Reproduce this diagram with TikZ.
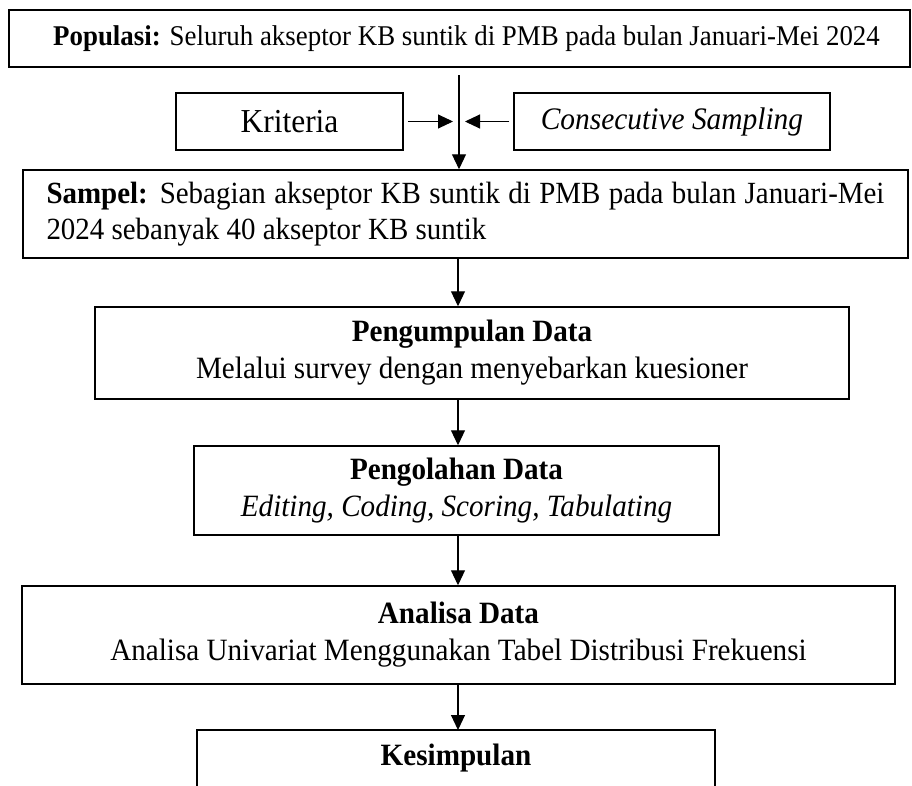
\documentclass[tikz,border=0pt]{standalone}
\usepackage{fontspec}
\setmainfont[FakeStretch=0.94]{Liberation Serif}
\usetikzlibrary{arrows.meta}
\hyphenpenalty=10000
\exhyphenpenalty=10000
\begin{document}
\begin{tikzpicture}[x=1pt,y=-1pt,
  box/.style={draw, line width=1.5pt, rectangle, inner sep=0pt, align=center},
  arr/.style={line width=1.1pt, -{Triangle[length=15pt,width=14pt]}},
  sarr/.style={line width=1pt, -{Triangle[length=15pt,width=14pt]}},
  mainfs/.style={font=\fontsize{31}{37}\selectfont},
]
\useasboundingbox (0,0) rectangle (912,785);
\fill[white] (0,0) rectangle (912,785);

% Populasi
\node[box, font=\fontsize{28.6}{33}\selectfont, minimum width=901pt, minimum height=57pt] (pop) at (459.5,38.5)
  {\hspace*{14pt}\textbf{Populasi:} Seluruh akseptor KB suntik di PMB pada bulan Januari-Mei 2024};

% side boxes
\node[box, font=\fontsize{33.5}{36}\selectfont, minimum width=227pt, minimum height=57pt] (krit) at (289.5,121.5) {Kriteria};
\node[box, font=\fontsize{31.3}{36}\selectfont, minimum width=316pt, minimum height=57pt] (cons) at (672,121.5) {\textit{Consecutive Sampling}};

% Sampel
\node[box, font=\fontsize{30.8}{36}\selectfont, text width=838pt, align=justify, inner xsep=23.5pt, inner ysep=0pt, minimum height=88pt] (samp) at (465.5,214)
  {\textbf{Sampel:} Sebagian akseptor KB suntik di PMB pada bulan Januari-Mei 2024 sebanyak 40 akseptor KB suntik};

% Pengumpulan
\node[box, mainfs, minimum width=754pt, minimum height=92pt] (kump) at (472,353)
  {\textbf{Pengumpulan Data}\\Melalui survey dengan menyebarkan kuesioner};

% Pengolahan
\node[box, mainfs, minimum width=525pt, minimum height=89pt] (olah) at (456.5,490.5)
  {\textbf{Pengolahan Data}\\\textit{Editing, Coding, Scoring, Tabulating}};

% Analisa
\node[box, mainfs, minimum width=873pt, minimum height=98pt] (anal) at (458.5,635)
  {\textbf{Analisa Data}\\Analisa Univariat Menggunakan Tabel Distribusi Frekuensi};

% Kesimpulan (cut at the bottom)
\draw[line width=1.5pt] (197,792) -- (197,730) -- (715,730) -- (715,792);
\node[mainfs, inner sep=0pt] (kes) at (456,758) {\textbf{Kesimpulan}};
\coordinate (kestop) at (458,730);

% connectors
\coordinate (start) at (459,75);
\draw[arr] (start) -- (start |- samp.north);
\coordinate (jl) at (453,121.5);
\coordinate (jr) at (465,121.5);
\draw[sarr, shorten <=4pt] (krit.east) -- (jl);
\draw[sarr, shorten <=4pt] (cons.west) -- (jr);

\coordinate (axis) at (458,0);
\draw[arr] (axis |- samp.south) -- (axis |- kump.north);
\draw[arr] (axis |- kump.south) -- (axis |- olah.north);
\draw[arr] (axis |- olah.south) -- (axis |- anal.north);
\draw[arr] (axis |- anal.south) -- (kestop);
\end{tikzpicture}
\end{document}
